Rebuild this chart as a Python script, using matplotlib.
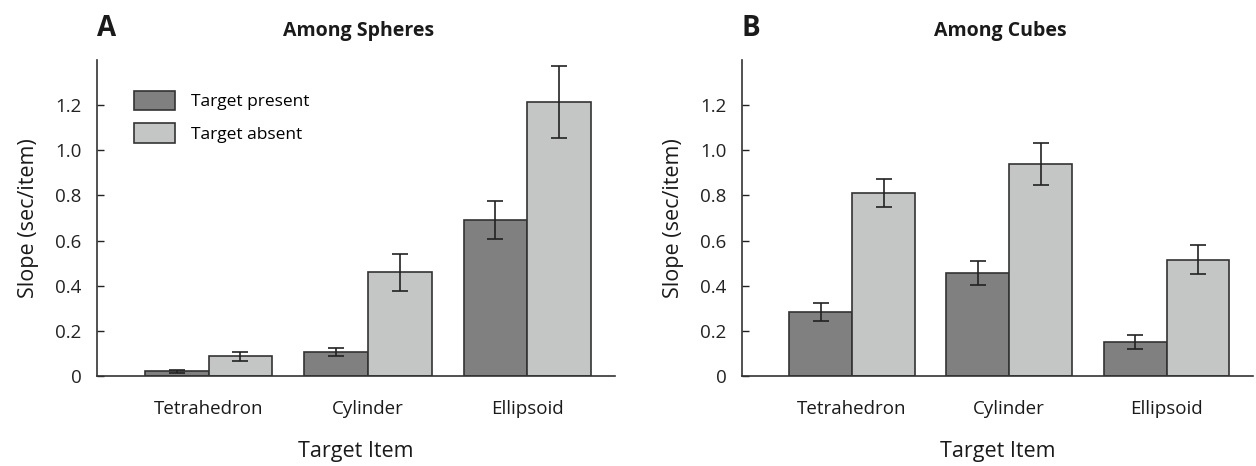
import matplotlib
matplotlib.use("Agg")
import matplotlib.pyplot as plt
import numpy as np

plt.rcParams['font.family'] = ['Open Sans', 'DejaVu Sans']

categories = ["Tetrahedron", "Cylinder", "Ellipsoid"]
series_names = ["Target present", "Target absent"]

# Panel A: Among Spheres
a_present = [0.02, 0.107, 0.69]
a_present_err = [0.005, 0.017, 0.085]
a_absent = [0.087, 0.46, 1.213]
a_absent_err = [0.021, 0.082, 0.16]

# Panel B: Among Cubes
b_present = [0.283, 0.457, 0.152]
b_present_err = [0.041, 0.053, 0.031]
b_absent = [0.812, 0.941, 0.516]
b_absent_err = [0.062, 0.093, 0.064]

yticks = [0, 0.2, 0.4, 0.6, 0.8, 1.0, 1.2]
ytick_labels = ["0", "0.2", "0.4", "0.6", "0.8", "1.0", "1.2"]

c_present = "#808080"
c_absent = "#c4c5c5"
edge = "#333333"
txt = "#1a1a1a"

W, H = 1256, 466
fig = plt.figure(figsize=(W / 100, H / 100), dpi=100)

def px_axes(l, r, top, bottom):
    return fig.add_axes([l / W, 1 - bottom / H, (r - l) / W, (bottom - top) / H])

axA = px_axes(97, 615, 60, 376)
axB = px_axes(742, 1253, 60, 376)

def draw(ax, present, perr, absent, aerr, letter, title, legend=False):
    x = np.arange(len(categories))
    w = 0.4
    ekw = dict(ecolor="#222222", elinewidth=1.2, capthick=1.2)
    ax.bar(x - w / 2, present, w, color=c_present, edgecolor=edge, linewidth=1.2,
           yerr=perr, capsize=5.5, error_kw=ekw, label=series_names[0], zorder=2)
    ax.bar(x + w / 2, absent, w, color=c_absent, edgecolor=edge, linewidth=1.2,
           yerr=aerr, capsize=5.5, error_kw=ekw, label=series_names[1], zorder=2)
    ax.set_xlim(-0.70, 2.55)
    ax.set_ylim(0, 1.4)
    ax.set_yticks(yticks)
    ax.set_yticklabels(ytick_labels, fontsize=13.5, color=txt)
    ax.set_xticks(x)
    ax.set_xticklabels(categories, fontsize=13.5, color=txt)
    ax.tick_params(axis='x', length=0, pad=17)
    ax.tick_params(axis='y', direction='in', length=5, width=1.0, pad=11, colors="#222222")
    for s in ["top", "right"]:
        ax.spines[s].set_visible(False)
    for s in ["left", "bottom"]:
        ax.spines[s].set_color("#333333")
        ax.spines[s].set_linewidth(1.2)
    ax.set_ylabel("Slope (sec/item)", fontsize=15.5, labelpad=12, color=txt)
    ax.set_xlabel("Target Item", fontsize=15.5, labelpad=17, color=txt)
    ax.set_title(title, fontsize=14, fontweight='bold', pad=17, x=0.505, color=txt)
    ax.text(0.018, 1.10, letter, transform=ax.transAxes, fontsize=20, fontweight='bold',
            ha='center', va='center', color=txt)
    if legend:
        ax.legend(loc='upper left', bbox_to_anchor=(0.058, 0.925), frameon=False,
                  fontsize=12.5, handlelength=2.35, handleheight=1.35, labelspacing=0.75,
                  handletextpad=0.95, borderaxespad=0)

draw(axA, a_present, a_present_err, a_absent, a_absent_err, "A", "Among Spheres", legend=True)
draw(axB, b_present, b_present_err, b_absent, b_absent_err, "B", "Among Cubes")

fig.savefig("out.png", dpi=100)
